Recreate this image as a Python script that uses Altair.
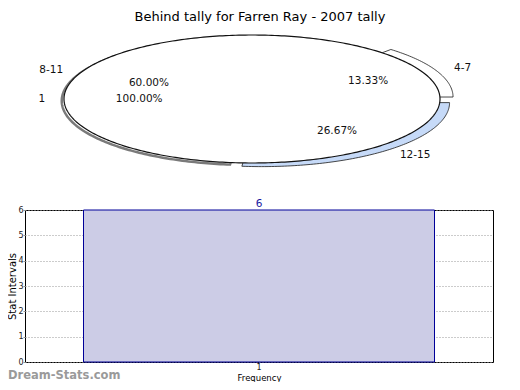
import math
import altair as alt
import pandas as pd

# ---------------- data ----------------
title_text = "Behind tally for Farren Ray - 2007 tally"
pie_labels = ["4-7", "8-11", "12-15"]
pie_values = [13.33, 60.00, 26.67]
inner_labels = ["1"]
inner_values = [100.00]
bar_categories = ["1"]
bar_values = [6]
y_title = "Stat Intervals"
x_title = "Frequency"
watermark = "Dream-Stats.com"

# ---------------- style ----------------
explode = {"4-7": 0.076, "8-11": 0.0, "12-15": 0.076}
slice_fill = {"4-7": "#ffffff", "8-11": "#ffffff", "12-15": "#c6daf8"}
shadow_shift = (-0.012, -0.03)
LABEL_R = 1.1
PCT_R = 0.6
FONT = "DejaVu Sans"
PLOT_H = 152


def build_slices(labels, values, start_deg=0.0, with_center=True):
    rows, lab_rows = [], []
    total = sum(values)
    a0 = start_deg
    for lab, v in zip(labels, values):
        span = 360.0 * v / total
        a1 = a0 + span
        mid = math.radians((a0 + a1) / 2)
        e = explode.get(lab, 0.0) if with_center else 0.0
        cx, cy = e * math.cos(mid), e * math.sin(mid)
        pts = []
        if with_center and span < 359.9:
            pts.append((cx, cy))
        n = max(int(span), 2)
        for k in range(n + 1):
            a = math.radians(a0 + span * k / n)
            pts.append((cx + math.cos(a), cy + math.sin(a)))
        pts.append(pts[0])
        for i, (px, py) in enumerate(pts):
            rows.append({"slice": lab, "i": i, "px": px, "py": py,
                         "sx": px + shadow_shift[0], "sy": py + shadow_shift[1]})
        lab_rows.append({
            "slice": lab,
            "pct": f"{100.0 * v / total:.2f}%",
            "side": "right" if math.cos(mid) > 0 else "left",
            "lx": cx + LABEL_R * math.cos(mid), "ly": cy + LABEL_R * math.sin(mid),
            "tx": cx + PCT_R * math.cos(mid), "ty": cy + PCT_R * math.sin(mid),
        })
        a0 = a1
    return pd.DataFrame(rows), pd.DataFrame(lab_rows)


outer_df, outer_lab = build_slices(pie_labels, pie_values)
inner_df, inner_lab = build_slices(inner_labels, inner_values, start_deg=0.0, with_center=False)

# unit ellipse -> pixel placement (view top at page y=210)
xs = alt.Scale(domain=[-1.2074, 1.2819], nice=False, zero=False)
ys = alt.Scale(domain=[-(PLOT_H + 111) / 64.0, -111 / 64.0], nice=False, zero=False)


def pos(xf, yf):
    return dict(
        x=alt.X(xf, type="quantitative", scale=xs, axis=None),
        y=alt.Y(yf, type="quantitative", scale=ys, axis=None),
    )


layers = []
sh = outer_df[outer_df["slice"] == "8-11"]
layers.append(alt.Chart(sh).mark_line(stroke="#7a7a7a", strokeWidth=2.5, fill="#ffffff")
              .encode(order="i:Q", **pos("sx", "sy")))
for lab in ["4-7", "12-15"]:
    d = outer_df[outer_df["slice"] == lab]
    layers.append(alt.Chart(d).mark_line(stroke="#1a1a1a", strokeWidth=0.8, fill=slice_fill[lab])
                  .encode(order="i:Q", **pos("px", "py")))
layers.append(alt.Chart(inner_df).mark_line(stroke="#111111", strokeWidth=1.2, fill="#ffffff")
              .encode(order="i:Q", **pos("px", "py")))
all_lab = pd.concat([outer_lab, inner_lab], ignore_index=True)
layers.append(alt.Chart(all_lab[all_lab["side"] == "right"])
              .mark_text(font=FONT, fontSize=10.5, color="#111111", align="left")
              .encode(text="slice:N", **pos("lx", "ly")))
layers.append(alt.Chart(all_lab[all_lab["side"] == "left"])
              .mark_text(font=FONT, fontSize=10.5, color="#111111", align="right")
              .encode(text="slice:N", **pos("lx", "ly")))
layers.append(alt.Chart(all_lab).mark_text(font=FONT, fontSize=10.5, color="#111111")
              .encode(text="pct:N", **pos("tx", "ty")))
pie = alt.layer(*layers)

# ---------------- bar chart ----------------
bar_df = pd.DataFrame({"cat": bar_categories, "val": bar_values})
bx = alt.X("cat:N", title=x_title,
           scale=alt.Scale(paddingInner=0, paddingOuter=1 / 6),
           axis=alt.Axis(labelAngle=0, grid=True, bandPosition=0.5, gridDash=[1, 2],
                         gridColor="#999999", tickColor="#999999", tickSize=1,
                         labelFontSize=8, labelColor="#222222", domain=False,
                         titleFontSize=8.5, titleFontWeight="normal",
                         titleBaseline="alphabetic", titleY=18, labelPadding=0))
by = alt.Y("val:Q", title=y_title,
           scale=alt.Scale(domain=[0, 6], nice=False),
           axis=alt.Axis(values=[0, 1, 2, 3, 4, 5, 6], tickCount=7, labelOverlap=False,
                         grid=True, gridDash=[1, 2],
                         gridColor="#999999", tickColor="#999999", tickSize=2,
                         labelFontSize=8, labelColor="#222222", domain=False,
                         titleFontSize=10, titleFontWeight="normal",
                         titleX=-10, titleY=PLOT_H / 2, titleAngle=-90, titleAlign="center",
                         titleBaseline="alphabetic", labelPadding=0))
bars = alt.Chart(bar_df).mark_bar(fill="#ccccE6", stroke="#000099", strokeWidth=1).encode(x=bx, y=by)
bar_txt = alt.Chart(bar_df).mark_text(font=FONT, fontSize=10.5, color="#1a1aa0", baseline="bottom", dy=-1).encode(
    x=bx, y=by, text="val:Q")
barl = alt.layer(bars, bar_txt)

extra = pd.DataFrame({"t": [title_text], "w": [watermark]})
title_mark = alt.Chart(extra).mark_text(font=FONT, fontSize=13, color="#000000", baseline="alphabetic").encode(
    text="t:N", x=alt.value(235), y=alt.value(-189.5))
wm_mark = alt.Chart(extra).mark_text(font=FONT, fontSize=11.5, fontWeight="bold", color="#9a9a9a",
                                     align="left", baseline="alphabetic").encode(
    text="w:N", x=alt.value(-17), y=alt.value(169))

chart = alt.layer(barl, pie, title_mark, wm_mark).resolve_scale(
    x="independent", y="independent"
).properties(
    width=468, height=PLOT_H,
    autosize=alt.AutoSizeParams(type="none"),
    padding={"left": 17, "top": 202, "right": 19, "bottom": 172 - PLOT_H},
).configure(font=FONT).configure_view(stroke="#000000", strokeWidth=1)

chart.save("out.html", embed_options={"renderer": "svg", "actions": False})
